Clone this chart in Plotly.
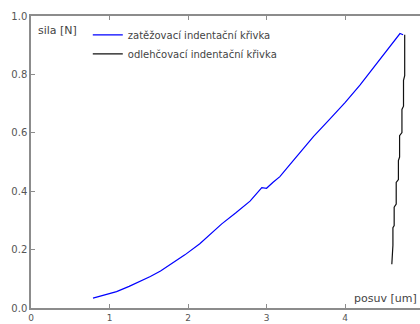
import plotly.graph_objects as go

# loading (indentation) curve: displacement [um], force [N]
load_x = [0.79, 0.95, 1.09, 1.25, 1.40, 1.52, 1.65, 1.77, 1.96, 2.15, 2.29, 2.43,
          2.61, 2.79, 2.94, 3.00, 3.08, 3.17, 3.30, 3.43, 3.60, 3.80, 4.00, 4.19,
          4.38, 4.57, 4.66, 4.70, 4.74]
load_y = [0.034, 0.045, 0.056, 0.074, 0.092, 0.108, 0.127, 0.148, 0.182, 0.220,
          0.253, 0.288, 0.326, 0.366, 0.412, 0.410, 0.430, 0.450, 0.492, 0.534,
          0.588, 0.645, 0.703, 0.763, 0.830, 0.897, 0.925, 0.940, 0.936]

# unloading curve
unload_x = [4.76, 4.76, 4.745, 4.745, 4.725, 4.725, 4.695, 4.695, 4.68, 4.68,
            4.652, 4.652, 4.626, 4.626, 4.61, 4.61, 4.596]
unload_y = [0.936, 0.796, 0.780, 0.691, 0.680, 0.601, 0.590, 0.517, 0.505, 0.440,
            0.430, 0.356, 0.345, 0.282, 0.275, 0.215, 0.150]

x_ticks = [0, 1, 2, 3, 4]
y_ticks = [0.0, 0.2, 0.4, 0.6, 0.8, 1.0]

FONT = "DejaVu Sans"
AXIS = "#8c8c8c"
TEXT = "#555555"

fig = go.Figure()
fig.add_trace(go.Scatter(x=load_x, y=load_y, mode="lines",
                         line=dict(color="#0000ff", width=1.2),
                         name="zatěžovací indentační křivka"))
fig.add_trace(go.Scatter(x=unload_x, y=unload_y, mode="lines",
                         line=dict(color="#111111", width=1.2),
                         name="odlehčovací indentační křivka"))

fig.update_layout(
    width=420, height=324,
    margin=dict(l=31, r=0, t=16, b=16),
    plot_bgcolor="white", paper_bgcolor="white",
    font=dict(family=FONT, size=10, color=TEXT),
    showlegend=True,
    legend=dict(x=0.146, y=0.985, xanchor="left", yanchor="top",
                bgcolor="rgba(0,0,0,0)", borderwidth=0,
                font=dict(family=FONT, size=10, color="#444444"),
                itemwidth=30, tracegroupgap=0),
    xaxis=dict(range=[0, 4.955], tickvals=x_ticks, ticktext=[str(v) for v in x_ticks],
               showgrid=False, zeroline=False, showline=True, linecolor=AXIS,
               linewidth=1.5, mirror="ticks", ticks="inside", ticklen=4,
               tickcolor=AXIS, automargin=False, ticklabelstandoff=0,
               tickfont=dict(family=FONT, size=9, color=TEXT)),
    yaxis=dict(range=[0, 1.0], tickvals=y_ticks, ticktext=[f"{v:.1f}" for v in y_ticks],
               showgrid=False, zeroline=False, showline=True, linecolor=AXIS,
               linewidth=1.5, ticks="inside", ticklen=4, tickcolor=AXIS,
               automargin=False,
               tickfont=dict(family=FONT, size=10, color=TEXT)),
    annotations=[
        dict(text="sila [N]", xref="paper", yref="paper", x=0.013, y=0.978,
             xanchor="left", yanchor="top", showarrow=False,
             font=dict(family=FONT, size=11, color="#444444")),
        dict(text="posuv [um]", xref="paper", yref="paper", x=0.998, y=0.003,
             xanchor="right", yanchor="bottom", showarrow=False,
             font=dict(family=FONT, size=11, color="#444444")),
    ],
)

fig.write_html("out.html")
